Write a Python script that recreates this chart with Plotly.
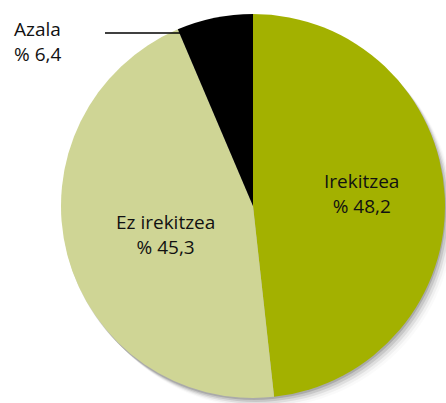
import plotly.graph_objects as go

labels = ["Irekitzea", "Ez irekitzea", "Azala"]
values = [48.2, 45.3, 6.4]
value_text = ["% 48,2", "% 45,3", "% 6,4"]
colors = ["#a3b100", "#cfd595", "#000000"]

W, H = 446, 403
cx0, cx1 = 61 / W, 445 / W
cy0, cy1 = 1 - 398 / H, 1 - 14 / H
FONT = "Open Sans, Noto Sans, sans-serif"
TXT = "#111111"

fig = go.Figure()

fig.add_trace(go.Pie(
    labels=labels, values=values, text=value_text,
    marker=dict(colors=colors, line=dict(width=0)),
    sort=False, direction="clockwise", rotation=0,
    domain=dict(x=[cx0, cx1], y=[cy0, cy1]),
    textinfo="none",
    showlegend=False, hoverinfo="label+text",
))

# soft drop shadow made of stacked translucent disks (decoration)
for dx, dy, a in [(1, 2, 0.14), (3, 4, 0.10), (5, 6, 0.07), (7, 8, 0.04), (9, 10, 0.02)]:
    fig.add_shape(type="circle", xref="paper", yref="paper", layer="below",
                  x0=cx0 + dx / W, x1=cx1 + dx / W, y0=cy0 - dy / H, y1=cy1 - dy / H,
                  fillcolor=f"rgba(0,0,0,{a})", line=dict(width=0))

# slice labels
label_pos = [(361, 193), (165, 235)]
for i, (px, py) in enumerate(label_pos):
    fig.add_annotation(
        x=px / W, y=1 - py / H, xref="paper", yref="paper", xanchor="center", yanchor="middle",
        text=f"{labels[i]}<br>{value_text[i]}", showarrow=False, align="center",
        font=dict(family=FONT, size=19, color=TXT),
    )

fig.add_annotation(
    x=12 / W, y=1 - 42 / H, xref="paper", yref="paper", xanchor="left", yanchor="middle",
    text=f"{labels[2]}<br>{value_text[2]}", showarrow=False, align="left",
    font=dict(family=FONT, size=19, color=TXT),
)
fig.add_shape(type="line", xref="paper", yref="paper",
              x0=105 / W, x1=182 / W, y0=1 - 33 / H, y1=1 - 33 / H,
              line=dict(color="black", width=1.5))

fig.update_layout(
    width=W, height=H, margin=dict(l=0, r=0, t=0, b=0),
    paper_bgcolor="white", plot_bgcolor="white",
)
fig.write_html("out.html", config={"displayModeBar": False},
               post_script="document.body.style.margin='0';document.body.style.overflow='hidden';")
